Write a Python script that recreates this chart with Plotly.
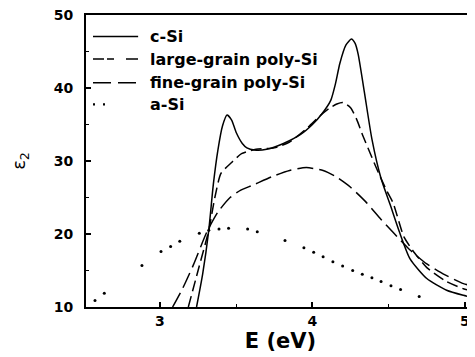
import plotly.graph_objects as go

# ---------------- data ----------------
csi_E = [3.24, 3.28, 3.32, 3.35, 3.38, 3.41, 3.44, 3.47, 3.50, 3.54, 3.57, 3.62, 3.70, 3.81,
         3.92, 4.00, 4.06, 4.12, 4.15, 4.18, 4.22, 4.255, 4.28, 4.30, 4.34, 4.39, 4.45, 4.51,
         4.57, 4.64, 4.75, 4.88, 4.99, 5.07]
csi_eps = [10, 14.5, 20.5, 26.8, 31.5, 34.8, 36.3, 35.6, 33.9, 32.4, 31.8, 31.5, 31.6, 32.4,
           33.6, 35.0, 36.4, 38.3, 40.5, 43.4, 45.9, 46.7, 46.1, 44.6, 39.5, 33.0, 27.6, 24.0,
           20.3, 16.6, 13.9, 12.3, 11.6, 11.2]

large_E = [3.186, 3.25, 3.32, 3.36, 3.40, 3.47, 3.535, 3.63, 3.75, 3.85, 3.97, 4.05, 4.11,
           4.16, 4.20, 4.25, 4.29, 4.33, 4.38, 4.42, 4.49, 4.53, 4.60, 4.67, 4.75, 4.87, 4.99, 5.07]
large_eps = [10, 15, 20.5, 25.0, 28.3, 29.8, 31.0, 31.6, 31.8, 32.6, 34.6, 36.2, 37.2,
             37.8, 38.0, 37.3, 35.7, 33.5, 31.0, 29.0, 25.8, 24.2, 19.6, 17.4, 15.4, 13.6, 12.5, 12.1]

fine_E = [3.083, 3.15, 3.22, 3.306, 3.38, 3.46, 3.53, 3.61, 3.74, 3.85, 3.96, 4.07, 4.15,
          4.25, 4.35, 4.45, 4.53, 4.64, 4.75, 4.87, 4.99, 5.07]
fine_eps = [10, 12.6, 15.8, 20.2, 23.0, 25.0, 26.0, 26.7, 27.9, 28.7, 29.1, 28.7, 27.9,
            26.4, 24.4, 22.0, 20.2, 17.8, 15.9, 14.4, 13.2, 12.8]

asi_E = [2.574, 2.635, 2.882, 3.007, 3.07, 3.13, 3.258, 3.32, 3.387, 3.45, 3.575, 3.638,
         3.82, 3.944, 4.008, 4.07, 4.134, 4.198, 4.264, 4.327, 4.39, 4.45, 4.515, 4.578, 4.70]
asi_eps = [10.9, 11.9, 15.7, 17.6, 18.3, 19.0, 20.1, 20.5, 20.7, 20.8, 20.7, 20.3,
           19.1, 18.1, 17.5, 16.9, 16.2, 15.6, 15.0, 14.5, 14.0, 13.5, 12.9, 12.4, 11.45]

series_names = ["c-Si", "large-grain poly-Si", "fine-grain poly-Si", "a-Si"]
x_ticks = [3, 4, 5]
y_ticks = [10, 20, 30, 40, 50]

# ---------------- figure ----------------
FONT = "DejaVu Sans"
fig = go.Figure()
line_common = dict(color="black", width=1.5, shape="spline", smoothing=0.6)

fig.add_trace(go.Scatter(x=csi_E, y=csi_eps, mode="lines", name=series_names[0],
                         line=dict(**line_common, dash="solid")))
fig.add_trace(go.Scatter(x=large_E, y=large_eps, mode="lines", name=series_names[1],
                         line=dict(**line_common, dash="11px,5px")))
fig.add_trace(go.Scatter(x=fine_E, y=fine_eps, mode="lines", name=series_names[2],
                         line=dict(**line_common, dash="16px,6px")))
fig.add_trace(go.Scatter(x=asi_E, y=asi_eps, mode="markers", name=series_names[3],
                         marker=dict(color="black", size=3)))

# custom legend (paper coordinates)
leg_rows = [0.926, 0.849, 0.768, 0.694]
leg_dash = ["solid", "11px,3px,7px,12px,12px", "18px,7px,18px", "2px,8px"]
leg_x0, leg_x1, txt_x = 0.018, 0.134, 0.159
shapes = []
annotations = []
for i, name in enumerate(series_names):
    y = leg_rows[i]
    x1 = leg_x1 if i < 3 else 0.055
    shapes.append(dict(type="line", xref="paper", yref="paper", x0=leg_x0, x1=x1, y0=y, y1=y,
                       line=dict(color="black", width=1.5 if i < 3 else 2.2, dash=leg_dash[i])))
    annotations.append(dict(xref="paper", yref="paper", x=txt_x, y=y, text=name, showarrow=False,
                            xanchor="left", yanchor="middle",
                            font=dict(family=FONT, size=16, color="black", weight="bold")))

# y-axis title as a rotated annotation
annotations.append(dict(xref="paper", yref="paper", x=-0.17, y=0.50, text="ε<sub>2</sub>",
                        showarrow=False, textangle=-90, xanchor="center", yanchor="middle",
                        font=dict(family=FONT, size=18, color="black")))

# page body has an 8px margin, so the figure is sized/offset to compensate
fig.update_layout(
    width=467, height=349, autosize=False,
    margin=dict(l=78, r=0, t=7, b=50, autoexpand=False),
    paper_bgcolor="white", plot_bgcolor="white",
    showlegend=False,
    shapes=shapes, annotations=annotations,
    font=dict(family=FONT, color="black"),
)
fig.update_xaxes(
    range=[2.515, 5.066], tickvals=x_ticks, ticktext=[str(v) for v in x_ticks],
    automargin=False, ticklabeloverflow="allow",
    ticks="inside", ticklen=5, tickwidth=1.5, tickcolor="black",
    showline=True, linewidth=2, linecolor="black", mirror=True,
    showgrid=False, zeroline=False,
    tickfont=dict(family=FONT, size=14, color="black", weight="bold"),
    minor=dict(dtick=0.5, tick0=2.5, ticks="inside", ticklen=3, tickwidth=1, tickcolor="black",
               showgrid=False),
    title=dict(text="E (eV)", standoff=6,
               font=dict(family=FONT, size=21, color="black", weight="bold")),
)
fig.update_yaxes(
    range=[10, 50], tickvals=y_ticks, ticktext=[str(v) for v in y_ticks],
    automargin=False, ticklabeloverflow="allow",
    ticks="inside", ticklen=5, tickwidth=1.5, tickcolor="black",
    showline=True, linewidth=2, linecolor="black", mirror=False,
    showgrid=False, zeroline=False,
    ticklabelstandoff=8,
    tickfont=dict(family=FONT, size=14, color="black", weight="bold"),
    minor=dict(dtick=5, tick0=10, ticks="inside", ticklen=3, tickwidth=1, tickcolor="black",
               showgrid=False),
)

fig.write_html("out.html")
